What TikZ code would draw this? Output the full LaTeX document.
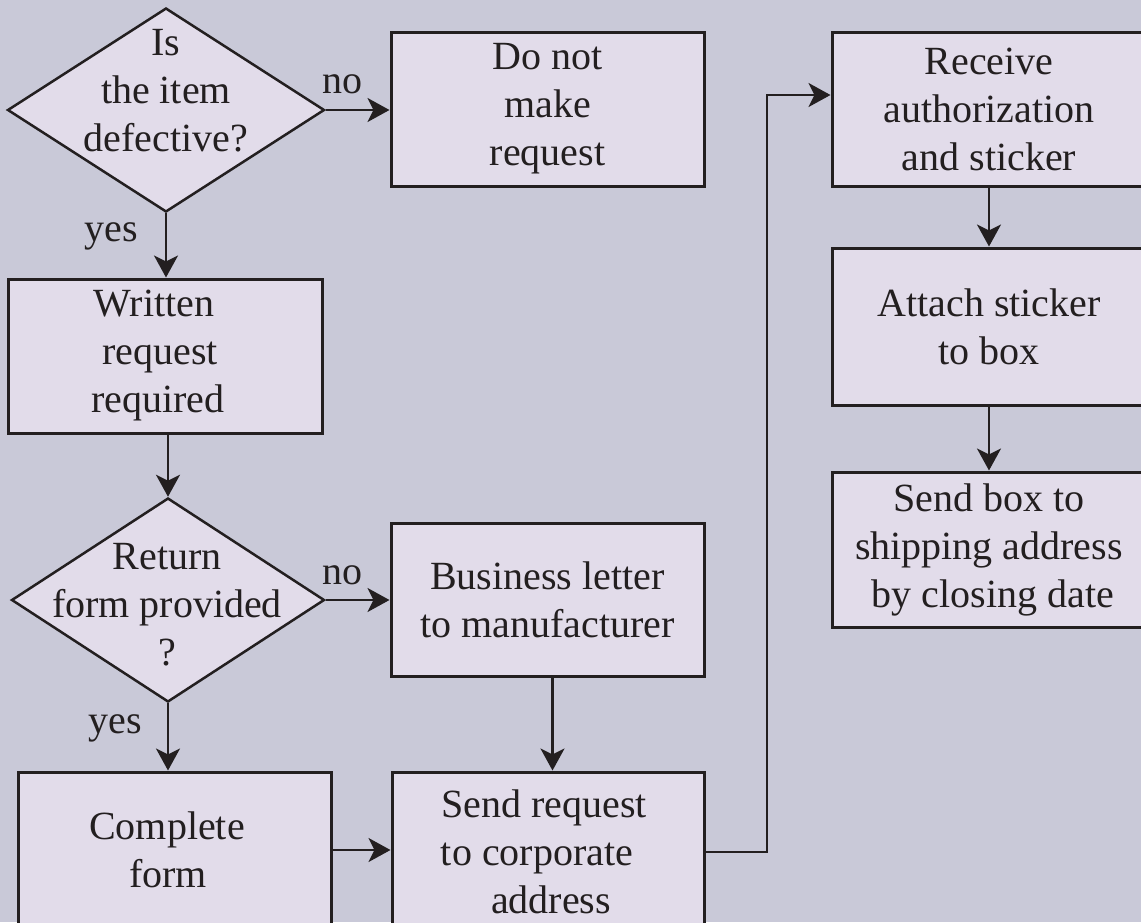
\documentclass[tikz,border=0pt]{standalone}
\usepackage{fontspec}
\setmainfont{Liberation Serif}
\usetikzlibrary{shapes.geometric,arrows.meta}
\definecolor{pagebg}{RGB}{201,201,216}
\definecolor{boxfill}{RGB}{226,220,234}
\definecolor{ink}{RGB}{35,31,32}

\begin{document}
\begin{tikzpicture}[x=1pt,y=-1pt,
  every node/.style={font=\fontsize{40}{48}\selectfont, text=ink},
  stepbox/.style={draw=ink, fill=boxfill, line width=3pt, rectangle, inner sep=0pt, align=center},
  decision/.style={draw=ink, fill=boxfill, line width=2.5pt, diamond, inner sep=0pt},
  flow/.style={draw=ink, line width=2.6pt, -{Stealth[length=22pt,width=24pt,inset=6pt]}},
  tag/.style={inner sep=0pt}]

  % page background and fixed frame
  \fill[pagebg] (0,0) rectangle (1141,922);
  \useasboundingbox (0,0) rectangle (1141,922);

  % decisions
  \node[decision, minimum width=317pt, minimum height=204pt] (d1) at (166,110) {};
  \node[align=center, inner sep=0pt] (d1t) at (166,91) {Is\\the item\\defective?};
  \node[decision, minimum width=313pt, minimum height=204pt] (d2) at (168,600) {};
  \node[align=center, inner sep=0pt] (d2t) at (167,605) {Return\\form provided\\?};

  % process steps
  \node[stepbox, minimum width=313pt, minimum height=154pt] (donot) at (547.5,109) {Do not\\make\\request};
  \node[stepbox, minimum width=314pt, minimum height=154pt] (written) at (165,356)
    {\mbox{Written\kern22pt}\\\mbox{request\kern10pt}\\\mbox{required\kern14pt}};
  \node[stepbox, minimum width=313pt, minimum height=153pt] (letter) at (547.5,599.5) {Business letter\\to manufacturer};
  \node[stepbox, minimum width=313pt, minimum height=156pt] (complete) at (174.5,850)
    {\mbox{Complete\kern15pt}\\\mbox{form\kern13pt}};
  \node[stepbox, minimum width=312pt, minimum height=160pt] (sendreq) at (548,852)
    {\mbox{Send request\kern8pt}\\\mbox{to corporate\kern22pt}\\\mbox{\kern6pt address}};
  \node[stepbox, minimum width=314pt, minimum height=154pt] (receive) at (989,109) {Receive\\authorization\\and sticker};
  \node[stepbox, minimum width=314pt, minimum height=157pt] (attach) at (989,326.5) {Attach sticker\\to box};
  \node[stepbox, minimum width=314pt, minimum height=155pt] (shipbox) at (989,549.5)
    {Send box to\\shipping address\\\mbox{\kern8pt by closing date}};

  % connectors
  \draw[flow] (d1.east) -- (d1.east -| donot.west);
  \node[tag, anchor=south west] (no1) at ([xshift=-3pt,yshift=16pt]d1.east) {no};
  \draw[flow] (d1.south) -- (d1.south |- written.north);
  \node[tag, anchor=base east] (yes1) at ([xshift=-28pt,yshift=-28pt]d1.south) {yes};
  \draw[flow] (d2.north |- written.south) -- (d2.north);
  \draw[flow] (d2.east) -- (d2.east -| letter.west);
  \node[tag, anchor=south west] (no2) at ([xshift=-3pt,yshift=15pt]d2.east) {no};
  \draw[flow] (d2.south) -- (d2.south |- complete.north);
  \node[tag, anchor=base east] (yes2) at ([xshift=-26pt,yshift=-30pt]d2.south) {yes};
  \draw[flow] ([xshift=5pt]letter.south) -- ([xshift=5pt]letter.south |- sendreq.north);
  \draw[flow] (complete.east) -- (complete.east -| sendreq.west);
  \coordinate (riser) at (767,95);
  \draw[flow] (sendreq.east) -| (riser) -- (riser -| receive.west);
  \draw[flow] (receive.south) -- (attach.north);
  \draw[flow] (attach.south) -- (shipbox.north);
\end{tikzpicture}
\end{document}
